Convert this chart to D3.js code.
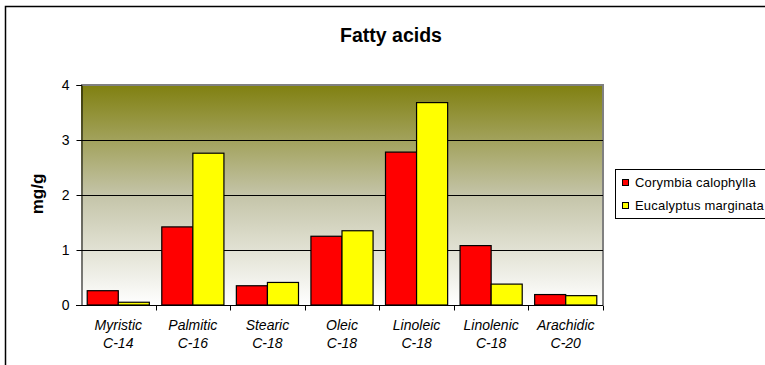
<!DOCTYPE html>
<html><head><meta charset="utf-8">
<script src="https://cdn.jsdelivr.net/npm/d3@7"></script>
<style>html,body{margin:0;padding:0;background:#fff;}svg{display:block;font-family:"Liberation Sans",Arial,sans-serif;}</style>
</head><body>
<script>
const categories = ["Myristic", "Palmitic", "Stearic", "Oleic", "Linoleic", "Linolenic", "Arachidic"];
const chains = ["C-14", "C-16", "C-18", "C-18", "C-18", "C-18", "C-20"];
const seriesNames = ["Corymbia calophylla", "Eucalyptus marginata"];
const corymbia = [0.26, 1.42, 0.35, 1.25, 2.78, 1.08, 0.19];
const eucalyptus = [0.05, 2.76, 0.41, 1.35, 3.68, 0.38, 0.17];
const yTicks = [0, 1, 2, 3, 4];
const colors = ["#ff0000", "#ffff00"];

const W = 765, H = 365;
const m = {left: 81, top: 85, right: 603, bottom: 305};
const svg = d3.select("body").append("svg").attr("width", W).attr("height", H);

// outer chart border
svg.append("rect").attr("x", 5.5).attr("y", 6.5).attr("width", 800).attr("height", 400)
  .attr("fill", "#fff").attr("stroke", "#000").attr("stroke-width", 1.5);

const x = d3.scaleBand().domain(categories).range([m.left, m.right]).paddingInner(0).paddingOuter(0);
const inner = d3.scaleBand().domain([0, 1]).range([0, x.bandwidth()]).paddingInner(0).paddingOuter(0.2);
const y = d3.scaleLinear().domain([0, 4]).range([m.bottom, m.top]);

const defs = svg.append("defs");
const grad = defs.append("linearGradient").attr("id", "bg").attr("x1", 0).attr("y1", 0).attr("x2", 0).attr("y2", 1);
grad.append("stop").attr("offset", "0%").attr("stop-color", "#808010");
grad.append("stop").attr("offset", "50%").attr("stop-color", "#c4c4a8");
grad.append("stop").attr("offset", "100%").attr("stop-color", "#ffffff");

svg.append("rect").attr("x", m.left).attr("y", m.top).attr("width", m.right - m.left).attr("height", m.bottom - m.top)
  .attr("fill", "url(#bg)");
// plot border (top & right gray)
svg.append("path").attr("d", `M${m.left},${m.top}H${m.right}V${m.bottom}`)
  .attr("fill", "none").attr("stroke", "#808080").attr("stroke-width", 2);

// gridlines
svg.append("g").selectAll("line").data(yTicks.filter(d => d > 0 && d < 4)).join("line")
  .attr("x1", m.left).attr("x2", m.right).attr("y1", d => Math.round(y(d)) + 0.5).attr("y2", d => Math.round(y(d)) + 0.5)
  .attr("stroke", "#000").attr("stroke-width", 1);

// bars
const data = categories.map((c, i) => ({c, vals: [corymbia[i], eucalyptus[i]]}));
const g = svg.append("g");
data.forEach(d => {
  d.vals.forEach((v, s) => {
    g.append("rect")
      .attr("x", x(d.c) + inner(s))
      .attr("y", y(v))
      .attr("width", inner.bandwidth())
      .attr("height", y(0) - y(v))
      .attr("fill", colors[s]).attr("stroke", "#000").attr("stroke-width", 1.2);
  });
});

// y axis
const yAxis = d3.axisLeft(y).tickValues(yTicks).tickSize(5).tickPadding(7).tickFormat(d3.format("d"));
const ya = svg.append("g").attr("transform", `translate(${m.left + 0.5},0)`).call(yAxis);
ya.select(".domain").attr("stroke", "#000");
ya.selectAll("text").attr("font-size", 14).attr("fill", "#000").attr("font-family", "Liberation Sans, Arial, sans-serif");

// x axis
const xa = svg.append("g").attr("transform", `translate(0,${m.bottom + 0.5})`);
xa.append("line").attr("x1", m.left - 5).attr("x2", m.right).attr("stroke", "#000");
xa.selectAll("line.t").data(categories).join("line").attr("class", "t")
  .attr("x1", d => Math.round(x(d) + x.bandwidth()) + 0.5)
  .attr("x2", d => Math.round(x(d) + x.bandwidth()) + 0.5)
  .attr("y1", 0).attr("y2", 5).attr("stroke", "#000");
const lab = xa.selectAll("text").data(categories).join("text")
  .attr("x", d => x(d) + x.bandwidth() / 2)
  .attr("text-anchor", "middle").attr("font-style", "italic").attr("font-size", 14).attr("fill", "#000");
lab.append("tspan").attr("x", d => x(d) + x.bandwidth() / 2).attr("y", 24).text(d => d);
lab.append("tspan").attr("x", d => x(d) + x.bandwidth() / 2).attr("y", 42).text((d, i) => chains[i]);

// title
svg.append("text").attr("x", 391).attr("y", 41.5).attr("text-anchor", "middle")
  .attr("font-weight", "bold").attr("font-size", 19.5).text("Fatty acids");

// y label
svg.append("text").attr("transform", "translate(43,194) rotate(-90)").attr("text-anchor", "middle")
  .attr("font-weight", "bold").attr("font-size", 17).text("mg/g");

// legend
const lg = svg.append("g");
lg.append("rect").attr("x", 615.5).attr("y", 169.5).attr("width", 160).attr("height", 49)
  .attr("fill", "#fff").attr("stroke", "#000").attr("stroke-width", 1);
seriesNames.forEach((n, i) => {
  lg.append("rect").attr("x", 622.5).attr("y", 179.5 + i * 23).attr("width", 6).attr("height", 6)
    .attr("fill", colors[i]).attr("stroke", "#000");
  lg.append("text").attr("x", 635).attr("y", 187 + i * 23).attr("font-size", 13).attr("letter-spacing", 0.2).text(n);
});
</script>
</body></html>
